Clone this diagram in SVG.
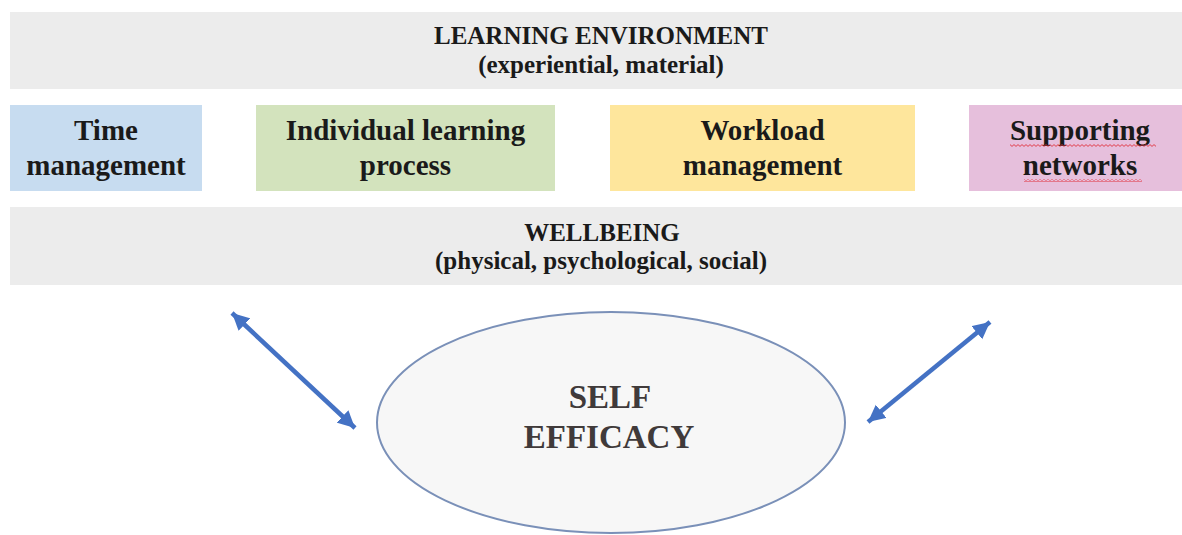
<svg xmlns="http://www.w3.org/2000/svg" width="1182" height="535" viewBox="0 0 1182 535">
  <style>
    .bar { fill: #ececec; }
    .t { font-family: "Liberation Serif", "Times New Roman", serif; font-weight: bold; fill: #1a1a1a; text-anchor: middle; }
    .hdr { font-size: 25px; }
    .box { font-size: 29px; }
    .core { font-size: 33px; fill: #403a3a; }
    .arrow { stroke: #4472c4; stroke-width: 4.5; fill: none; marker-start: url(#ah); marker-end: url(#ah); }
  </style>
  <defs>
    <marker id="ah" markerUnits="userSpaceOnUse" markerWidth="18" markerHeight="18" refX="17" refY="9" orient="auto-start-reverse">
      <path d="M0,0.5 L17,9 L0,17.5 Z" fill="#4472c4"/>
    </marker>
    <pattern id="squig" patternUnits="userSpaceOnUse" width="4" height="3">
      <path d="M0,2.4 L2,0.6 L4,2.4" fill="none" stroke="#e0303a" stroke-width="0.9"/>
    </pattern>
  </defs>

  <g id="learning-environment">
    <rect class="bar" x="10" y="12" width="1172" height="77"/>
    <text class="t hdr" x="601" y="44">LEARNING ENVIRONMENT</text>
    <text class="t hdr" x="601" y="73">(experiential, material)</text>
  </g>

  <g id="time-management">
    <rect x="10" y="105" width="192" height="86" fill="#c7dcf0"/>
    <text class="t box" x="106" y="140">Time</text>
    <text class="t box" x="106" y="175">management</text>
  </g>

  <g id="individual-learning-process">
    <rect x="256" y="105" width="299" height="86" fill="#d3e3bd"/>
    <text class="t box" x="405.5" y="140">Individual learning</text>
    <text class="t box" x="405.5" y="175">process</text>
  </g>

  <g id="workload-management">
    <rect x="610" y="105" width="305" height="86" fill="#fee69c"/>
    <text class="t box" x="762.5" y="140">Workload</text>
    <text class="t box" x="762.5" y="175">management</text>
  </g>

  <g id="supporting-networks">
    <rect x="969" y="105" width="213" height="86" fill="#e6bfdc"/>
    <text class="t box" x="1080" y="140">Supporting</text>
    <text class="t box" x="1080" y="175">networks</text>
    <rect x="1010" y="144" width="146" height="3" fill="url(#squig)"/>
    <rect x="1024" y="179" width="118" height="3" fill="url(#squig)"/>
  </g>

  <g id="wellbeing">
    <rect class="bar" x="10" y="207" width="1172" height="78"/>
    <text class="t hdr" x="602" y="241">WELLBEING</text>
    <text class="t hdr" x="601" y="269">(physical, psychological, social)</text>
  </g>

  <g id="self-efficacy">
    <ellipse cx="611" cy="422.5" rx="234" ry="110.5" fill="#f7f7f7" stroke="#7a90b8" stroke-width="2"/>
    <text class="t core" x="610" y="408">SELF</text>
    <text class="t core" x="609" y="448">EFFICACY</text>
  </g>

  <g id="connectors">
    <line class="arrow" x1="232" y1="313" x2="355" y2="428"/>
    <line class="arrow" x1="990" y1="322" x2="868" y2="422"/>
  </g>
</svg>
